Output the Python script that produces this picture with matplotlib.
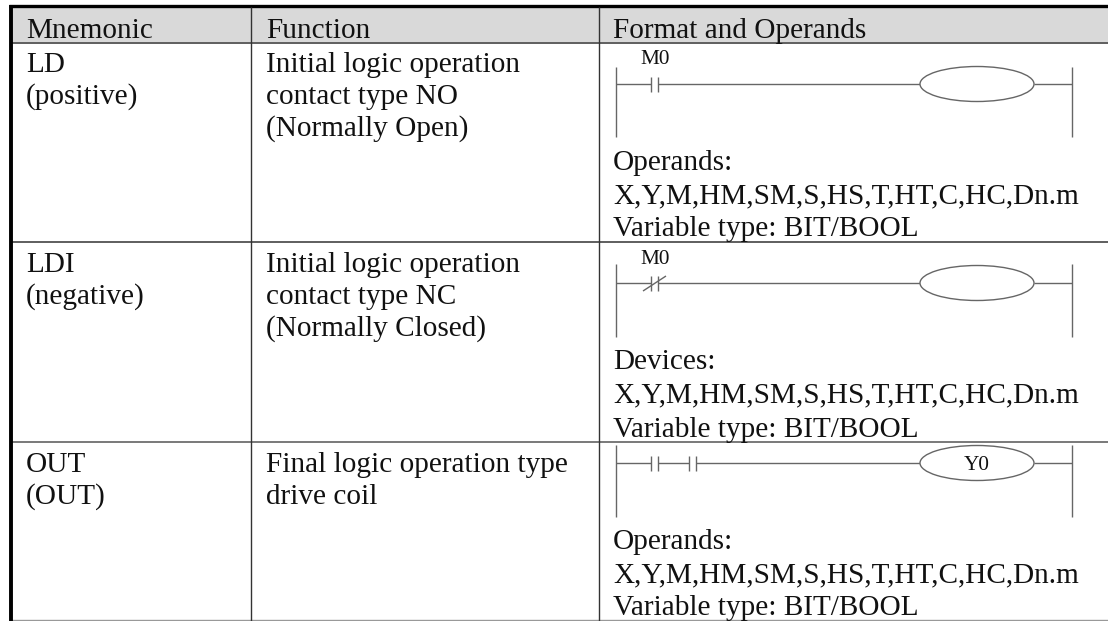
import matplotlib
matplotlib.use("Agg")
import matplotlib.pyplot as plt
from matplotlib.patches import Ellipse, Rectangle

headers = ["Mnemonic", "Function", "Format and Operands"]
mnemonics = [["LD", "(positive)"], ["LDI", "(negative)"], ["OUT", "(OUT)"]]
functions = [
    ["Initial logic operation", "contact type NO", "(Normally Open)"],
    ["Initial logic operation", "contact type NC", "(Normally Closed)"],
    ["Final logic operation type", "drive coil"],
]
operands = [
    ["Operands:", "X,Y,M,HM,SM,S,HS,T,HT,C,HC,Dn.m", "Variable type: BIT/BOOL"],
    ["Devices:", "X,Y,M,HM,SM,S,HS,T,HT,C,HC,Dn.m", "Variable type: BIT/BOOL"],
    ["Operands:", "X,Y,M,HM,SM,S,HS,T,HT,C,HC,Dn.m", "Variable type: BIT/BOOL"],
]
contact_labels = ["M0", "M0", ""]
coil_labels = ["", "", "Y0"]

W, H = 1108, 621
FONT = "Liberation Serif"
FS = 21.1
GREY = "#666666"

fig = plt.figure(figsize=(W / 100, H / 100), dpi=100)
ax = fig.add_axes([0, 0, 1, 1])
ax.set_xlim(0, W)
ax.set_ylim(H, 0)
ax.axis("off")


def line(xs, ys, lw=1.0, c=GREY):
    ax.plot(xs, ys, color=c, lw=lw, solid_capstyle="butt", zorder=3)


def txt(x, y, s, fs=FS, ha="left"):
    ax.text(x, y, s, family=FONT, fontsize=fs, ha=ha, va="baseline",
            color="#111111", zorder=4)


# Table frame
ax.add_patch(Rectangle((11, 6), W - 11, 36, fc="#d9d9d9", ec="none", zorder=1))
line([9, W], [6, 6], lw=2.4, c="black")
line([11, W], [42.5, 42.5], lw=1.1, c="#333333")
line([11, W], [242, 242], lw=1.1, c="#333333")
line([11, W], [442, 442], lw=1.1, c="#555555")
line([11, W], [620, 620], lw=1.0, c="#999999")
line([251, 251], [7, H], lw=1.0, c="#333333")
line([599, 599], [7, H], lw=1.0, c="#333333")
line([11, 11], [5, H], lw=2.8, c="black")

# Table text
for x, h in zip([26, 266, 613], headers):
    txt(x, 38, h)
row_base = [72, 272, 472]
op_base = [[170, 203, 236], [369, 402, 437], [549, 582, 615]]
for i in range(3):
    for j, s in enumerate(mnemonics[i]):
        txt(26, row_base[i] + j * 32, s)
    for j, s in enumerate(functions[i]):
        txt(266, row_base[i] + j * 32, s)
    for y, s in zip(op_base[i], operands[i]):
        txt(613, y, s)


# Ladder diagrams
def ladder(wire, top, bottom, contacts, label, coil, slash=False, label_dy=-20):
    line([616, 616], [top, bottom])
    line([1072, 1072], [top, bottom])
    x = 616
    for a in contacts:
        line([x, a], [wire, wire])
        line([a, a], [wire - 7.5, wire + 7.5])
        line([a + 7, a + 7], [wire - 7.5, wire + 7.5])
        x = a + 7
    line([x, 920], [wire, wire])
    line([1034, 1072], [wire, wire])
    ax.add_patch(Ellipse((977, wire), 114, 35, fc="white", ec=GREY, lw=1.0, zorder=3))
    if slash:
        line([643, 666], [wire + 8, wire - 7])
    if label:
        txt(655, wire + label_dy, label, fs=15.3, ha="center")
    if coil:
        txt(977, wire + 7, coil, fs=15.3, ha="center")


ladder(84, 67, 137, [651], contact_labels[0], coil_labels[0])
ladder(283, 264, 337, [651], contact_labels[1], coil_labels[1], slash=True, label_dy=-19)
ladder(463, 445, 517, [651, 689], contact_labels[2], coil_labels[2])

fig.savefig("out.png", dpi=100)
